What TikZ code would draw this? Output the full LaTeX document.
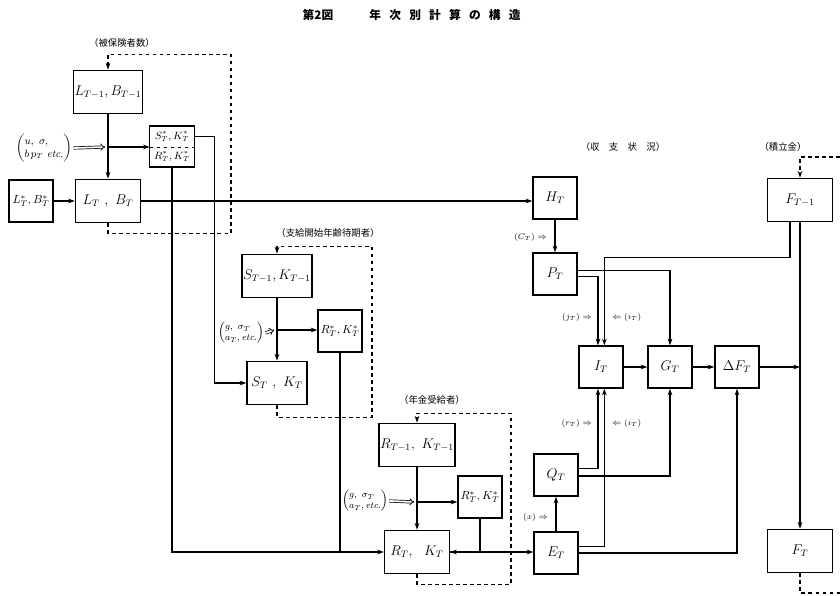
\documentclass[tikz,border=0pt]{standalone}
\usepackage{fontspec}
\newfontfamily\jpfont{Noto Sans CJK JP}
\newfontfamily\jpwide[LetterSpace=70]{Noto Sans CJK JP}
\usetikzlibrary{arrows.meta, positioning}

\begin{document}
\begin{tikzpicture}[
    x=0.3mm, y=-0.3mm,
    box/.style={rectangle, draw, line width=1.2pt, minimum width=19.5mm, minimum height=13mm, inner sep=1pt, font=\large},
    sbox/.style={box, minimum width=13.2mm, minimum height=12.6mm},
    stbox/.style={sbox, font=\normalsize},
    halfbox/.style={rectangle, minimum width=13.2mm, minimum height=6.1mm, inner sep=0pt, font=\small},
    grp/.style={font=\jpfont\footnotesize},
    note/.style={font=\scriptsize},
    inp/.style={font=\footnotesize, inner sep=1pt},
    arr/.style={-{Stealth[length=2mm, width=1.4mm]}, line width=0.9pt},
    ln/.style={line width=0.9pt},
    loop/.style={dashed, line width=0.9pt, -{Stealth[length=2mm, width=1.4mm]}},
    dbl/.style={double, double distance=1.5pt, line width=0.6pt, -{Implies}}
]
\useasboundingbox (0,0) rectangle (840,596);

% Title
\node[font=\jpfont\bfseries] (fig) at (318,15) {第2図};
\node[font=\jpwide\bfseries] (title) at (445,15) {年次別計算の構造};

% Insured persons
\node[grp] (lab1) at (122,43) {（被保険者数）};
\node[box] (lprev) at (108,92) {$L_{T-1},B_{T-1}$};
\node[box] (lcur) at (108,201) {$L_T\ ,\ B_T$};
\node[stbox] (lnew) at (31,201) {$L^*_T,B^*_T$};
\node[halfbox] (sstar) at (172,136.5) {$S^*_T,K^*_T$};
\node[halfbox] (rstar) at (172,156.5) {$R^*_T,K^*_T$};
\draw[line width=1.2pt] (sstar.north west) rectangle (rstar.south east);
\draw[dashed] (sstar.south west) -- (sstar.south east);
\coordinate (j1) at (108,147);
\node[inp, font=\small] (in1) at (44,148) {$\left(\begin{array}{@{}l@{}}u,\ \sigma,\\ b\,p_T\ \mathit{etc.}\end{array}\right)$};

\draw[arr] (lprev) -- (lcur);
\draw[arr] (j1) -- (j1 -| rstar.west);
\draw[dbl] (in1.east) -- ([xshift=-0.8mm]j1);
\draw[arr] (lnew) -- (lcur);
\draw[loop] (lcur.south) -- ++(0,10) -| ++(123,-179) -| (lprev.north);

% Waiting for pension age
\node[grp] (lab2) at (328,233) {（支給開始年齢待期者）};
\node[box, minimum width=18mm] (sprev) at (277,276) {$S_{T-1},K_{T-1}$};
\node[box, minimum width=18mm] (scur) at (277,383) {$S_T\ ,\ K_T$};
\node[stbox] (rstar2) at (340,331) {$R^*_T,K^*_T$};
\coordinate (j2) at (277,330);
\node[inp] (in2) at (241,333) {$\left(\begin{array}{@{}l@{}}g,\ \sigma_T\\ a_T,\mathit{etc.}\end{array}\right)$};

\draw[arr] (sprev) -- (scur);
\draw[arr] (j2) -- (j2 -| rstar2.west);
\draw[dbl] (in2.east) -- ([xshift=-0.8mm]j2);
\draw[arr] (sstar.east) -- ++(20,0) |- (scur.west);
\draw[loop] (scur.south) -- ++(0,12) -| ++(95,-171) -| (sprev.north);

% Pensioners
\node[grp] (lab3) at (432,400) {（年金受給者）};
\node[box] (rprev) at (417,445) {$R_{T-1},\ K_{T-1}$};
\node[box] (rcur) at (417,552) {$R_T,\ \ K_T$};
\node[stbox] (rstar3) at (480,497) {$R^*_T,K^*_T$};
\coordinate (j3) at (417,502);
\node[inp] (in3) at (365,501) {$\left(\begin{array}{@{}l@{}}g,\ \sigma_T\\ a_T,\mathit{etc.}\end{array}\right)$};

\draw[arr] (rprev) -- (rcur);
\draw[arr] (j3) -- (j3 -| rstar3.west);
\draw[dbl] (in3.east) -- ([xshift=-0.8mm]j3);
\draw[arr] (rstar.south) |- (rcur.west);
\draw[ln] (rstar2.south) -- (rstar2.south |- rcur.west);
\draw[arr] (rstar3.south) |- (rcur.east);
\draw[loop] (rcur.south) -- ++(0,10) -| ++(94,-171) -| (rprev.north);

% Income and outgo
\node[grp] (lab4) at (623,147) {（収　支　状　況）};
\node[sbox] (ht) at (555,198) {$H_T$};
\node[sbox] (pt) at (555,274) {$P_T$};
\node[sbox] (it) at (601,367) {$I_T$};
\node[sbox] (gt) at (670,367) {$G_T$};
\node[sbox] (dft) at (737,367) {$\Delta F_T$};
\node[sbox] (qt) at (556,475) {$Q_T$};
\node[sbox] (et) at (556,553) {$E_T$};

\draw[arr] (lcur.east) -- (lcur.east -| ht.west);
\draw[arr] (rcur.east) -- (rcur.east -| et.west);
\draw[arr] (ht) -- (pt);
\draw[arr] (et) -- (qt);
\draw[arr] (it) -- (gt);
\draw[arr] (gt) -- (dft);
\draw[arr] ([yshift=1.1mm]pt.east) -| (gt.north);
\draw[arr] ([yshift=-0.8mm]pt.east) -| ([xshift=-0.9mm]it.north);
\draw[arr] ([yshift=2mm]qt.east) -| ([xshift=-0.9mm]it.south);
\draw[arr] ([yshift=-0.3mm]qt.east) -| (gt.south);
\draw[arr] ([yshift=2mm]et.east) -| ([xshift=1mm]it.south);
\draw[arr] (et.east) -| (dft.south);

\node[note, anchor=east] (ct) at (551,237) {$(C_T)\Rightarrow$};
\node[note, anchor=east] (xin) at (552,517) {$(x)\Rightarrow$};
\node[note, anchor=east] (jt) at (596,317) {$(j_T)\Rightarrow$};
\node[note, anchor=west] (it1) at (608,317) {$\Leftarrow(i_T)$};
\node[note, anchor=east] (rt) at (596,423) {$(r_T)\Rightarrow$};
\node[note, anchor=west] (it2) at (608,423) {$\Leftarrow(i_T)$};

% Reserve fund
\node[grp] (lab5) at (783,147) {（積立金）};
\node[box] (fprev) at (800,200) {$F_{T-1}$};
\node[box] (ft) at (800,551) {$F_T$};
\coordinate (edget) at (840,157);
\coordinate (edgeb) at (840,593);

\draw[arr] (fprev.south) -- (ft.north);
\draw[arr] ([xshift=-3mm]fprev.south) -- ++(0,35) -| ([xshift=1mm]it.north);
\draw[arr] (dft.east) -- (dft.east -| ft.north);
\draw[ln, dashed] (ft.south) |- (edgeb);
\draw[loop] (edget) -| (fprev.north);

\end{tikzpicture}
\end{document}
